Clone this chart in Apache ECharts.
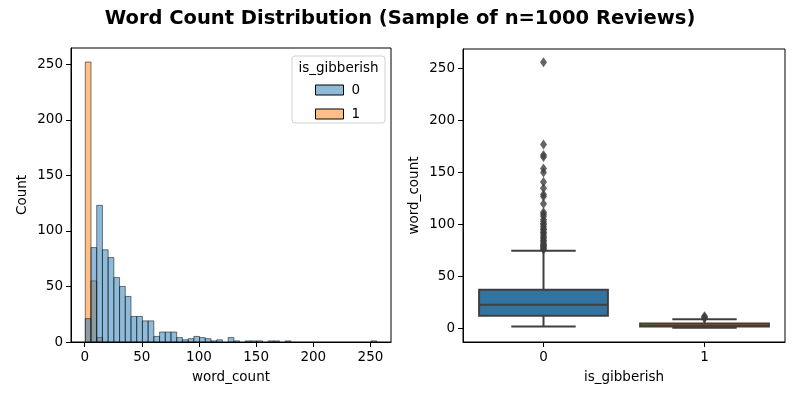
<!DOCTYPE html>
<html>
<head>
<meta charset="utf-8">
<script src="https://cdn.jsdelivr.net/npm/echarts@6/dist/echarts.min.js"></script>
<style>
  html, body { margin: 0; padding: 0; background: #fff; }
  #main { width: 800px; height: 400px; }
</style>
</head>
<body>
<div id="main"></div>
<script>
// histogram bins: 51 bins of width 5 starting at 0.5
const binStart = 0.5;
const binWidth = 5;
const countsNotGibberish = [21, 85, 123, 83, 76, 58, 50, 41, 23, 23, 19, 19, 5, 9, 9, 9, 4, 2, 3, 5,
  4, 3, 1, 2, 0, 4, 1, 0, 1, 1, 1, 0, 1, 1, 0, 1, 0, 0, 0, 0,
  0, 0, 0, 0, 0, 0, 0, 0, 0, 0, 1];
const countsGibberish = [252, 55, 4];
const histTicks = [0, 50, 100, 150, 200, 250];

// boxplot: [min, q1, median, q3, max] per is_gibberish group
const groups = ['0', '1'];
const boxStats = [
  [2, 12.5, 23, 37.5, 75],
  [1, 2, 3, 5, 9]
];
const outliers0 = [76, 77, 78, 79, 80, 81, 82, 84, 85, 87, 88, 90, 92, 93, 95, 96, 98, 100, 101, 103,
  105, 108, 110, 112, 120, 127, 129, 135, 141, 150, 154, 165, 167, 177, 256];
const outliers1 = [10, 11, 12];
const boxTicks = [0, 50, 100, 150, 200, 250];

const chart = echarts.init(document.getElementById('main'), null, { renderer: 'canvas' });
const font = 'DejaVu Sans';

function toBins(counts) {
  let out = [];
  counts.forEach(function (c, i) {
    if (c > 0) out.push([binStart + i * binWidth, binStart + (i + 1) * binWidth, c]);
  });
  return out;
}

function histItem(params, api) {
  let p0 = api.coord([api.value(0), api.value(2)]);
  let p1 = api.coord([api.value(1), 0]);
  return {
    type: 'rect',
    shape: { x: p0[0], y: p0[1], width: p1[0] - p0[0], height: p1[1] - p0[1] },
    style: { fill: api.visual('color'), stroke: '#000', lineWidth: 1, opacity: 0.5 }
  };
}

const boxColors = ['#3274a1', '#e1812c'];
function boxItem(params, api) {
  let x = api.value(0);
  let band = api.size([1, 0])[0];
  let half = band * 0.4, cap = band * 0.2;
  let pMin = api.coord([x, api.value(1)]);
  let pQ1 = api.coord([x, api.value(2)]);
  let pMed = api.coord([x, api.value(3)]);
  let pQ3 = api.coord([x, api.value(4)]);
  let pMax = api.coord([x, api.value(5)]);
  let cx = pMed[0];
  let line = { stroke: '#3f3f3f', lineWidth: 2 };
  return {
    type: 'group',
    children: [
      { type: 'line', shape: { x1: cx, y1: pQ3[1], x2: cx, y2: pMax[1] }, style: line },
      { type: 'line', shape: { x1: cx, y1: pQ1[1], x2: cx, y2: pMin[1] }, style: line },
      { type: 'line', shape: { x1: cx - cap, y1: pMax[1], x2: cx + cap, y2: pMax[1] }, style: line },
      { type: 'line', shape: { x1: cx - cap, y1: pMin[1], x2: cx + cap, y2: pMin[1] }, style: line },
      { type: 'rect', shape: { x: cx - half, y: pQ3[1], width: half * 2, height: pQ1[1] - pQ3[1] },
        style: { fill: boxColors[params.dataIndex], stroke: '#3f3f3f', lineWidth: 2 } },
      { type: 'line', shape: { x1: cx - half, y1: pMed[1], x2: cx + half, y2: pMed[1] }, style: line }
    ]
  };
}

const axisText = { color: '#000', fontFamily: font, fontSize: 13.5 };
const nameText = { color: '#000', fontFamily: font, fontSize: 13.5 };
const axisLineStyle = { show: true, onZero: false, lineStyle: { color: '#000' } };

const option = {
  animation: false,
  backgroundColor: '#fff',
  title: {
    text: 'Word Count Distribution (Sample of n=1000 Reviews)',
    left: 'center', top: 4,
    textStyle: { fontFamily: font, fontSize: 19.5, fontWeight: 'bold', color: '#000' }
  },
  graphic: [
    { type: 'rect', z: 5, shape: { x: 292, y: 56, width: 93, height: 67, r: 3 },
      style: { fill: 'rgba(255,255,255,0.85)', stroke: '#d0d0d0', lineWidth: 1 } },
    { type: 'text', z: 6, x: 338.5, y: 68, style: { text: 'is_gibberish', fill: '#000',
      font: '13.5px "DejaVu Sans"', textAlign: 'center', textVerticalAlign: 'middle' } }
  ],
  legend: {
    orient: 'vertical', left: 315, top: 83, z: 7,
    itemWidth: 28, itemHeight: 10, itemGap: 10, padding: 0,
    icon: 'rect',
    selectedMode: false,
    textStyle: { fontFamily: font, fontSize: 13.5, color: '#000', padding: [0, 0, 0, 3] },
    data: [
      { name: '0', itemStyle: { color: 'rgba(31,119,180,0.5)', borderColor: '#000', borderWidth: 1 } },
      { name: '1', itemStyle: { color: 'rgba(255,127,14,0.5)', borderColor: '#000', borderWidth: 1 } }
    ]
  },
  grid: [
    { left: 71, top: 48, width: 320, height: 294, show: true, borderColor: '#000', borderWidth: 1 },
    { left: 463, top: 49, width: 322, height: 293, show: true, borderColor: '#000', borderWidth: 1 }
  ],
  xAxis: [
    {
      type: 'value', gridIndex: 0, min: -12, max: 268,
      name: 'word_count', nameLocation: 'middle', nameGap: 28, nameTextStyle: nameText,
      splitLine: { show: false },
      axisLine: axisLineStyle,
      axisTick: { show: true, length: 5, lineStyle: { color: '#000' }, customValues: histTicks },
      axisLabel: Object.assign({ margin: 8, customValues: histTicks }, axisText)
    },
    {
      type: 'category', gridIndex: 1, data: groups,
      name: 'is_gibberish', nameLocation: 'middle', nameGap: 28, nameTextStyle: nameText,
      axisLine: axisLineStyle,
      axisTick: { show: true, alignWithLabel: true, length: 5, lineStyle: { color: '#000' } },
      axisLabel: Object.assign({ margin: 8 }, axisText)
    }
  ],
  yAxis: [
    {
      type: 'value', gridIndex: 0, min: 0, max: 264.6,
      name: 'Count', nameLocation: 'middle', nameGap: 42, nameTextStyle: nameText,
      splitLine: { show: false },
      axisLine: axisLineStyle,
      axisTick: { show: true, length: 5, lineStyle: { color: '#000' }, customValues: histTicks },
      axisLabel: Object.assign({ margin: 8, customValues: histTicks }, axisText)
    },
    {
      type: 'value', gridIndex: 1, min: -12.8, max: 268.8,
      name: 'word_count', nameLocation: 'middle', nameGap: 42, nameTextStyle: nameText,
      splitLine: { show: false },
      axisLine: axisLineStyle,
      axisTick: { show: true, length: 5, lineStyle: { color: '#000' }, customValues: boxTicks },
      axisLabel: Object.assign({ margin: 8, customValues: boxTicks }, axisText)
    }
  ],
  series: [
    {
      name: '1', type: 'custom', xAxisIndex: 0, yAxisIndex: 0,
      itemStyle: { color: '#ff7f0e' },
      renderItem: histItem, data: toBins(countsGibberish)
    },
    {
      name: '0', type: 'custom', xAxisIndex: 0, yAxisIndex: 0,
      itemStyle: { color: '#1f77b4' },
      renderItem: histItem, data: toBins(countsNotGibberish)
    },
    {
      type: 'custom', xAxisIndex: 1, yAxisIndex: 1,
      renderItem: boxItem,
      data: boxStats.map(function (s, i) { return [i].concat(s); })
    },
    {
      type: 'scatter', xAxisIndex: 1, yAxisIndex: 1,
      symbol: 'diamond', symbolSize: [7, 10],
      itemStyle: { color: '#3f3f3f' },
      data: outliers0.map(function (v) { return [0, v]; })
        .concat(outliers1.map(function (v) { return [1, v]; }))
    }
  ]
};

chart.setOption(option);
</script>
</body>
</html>
